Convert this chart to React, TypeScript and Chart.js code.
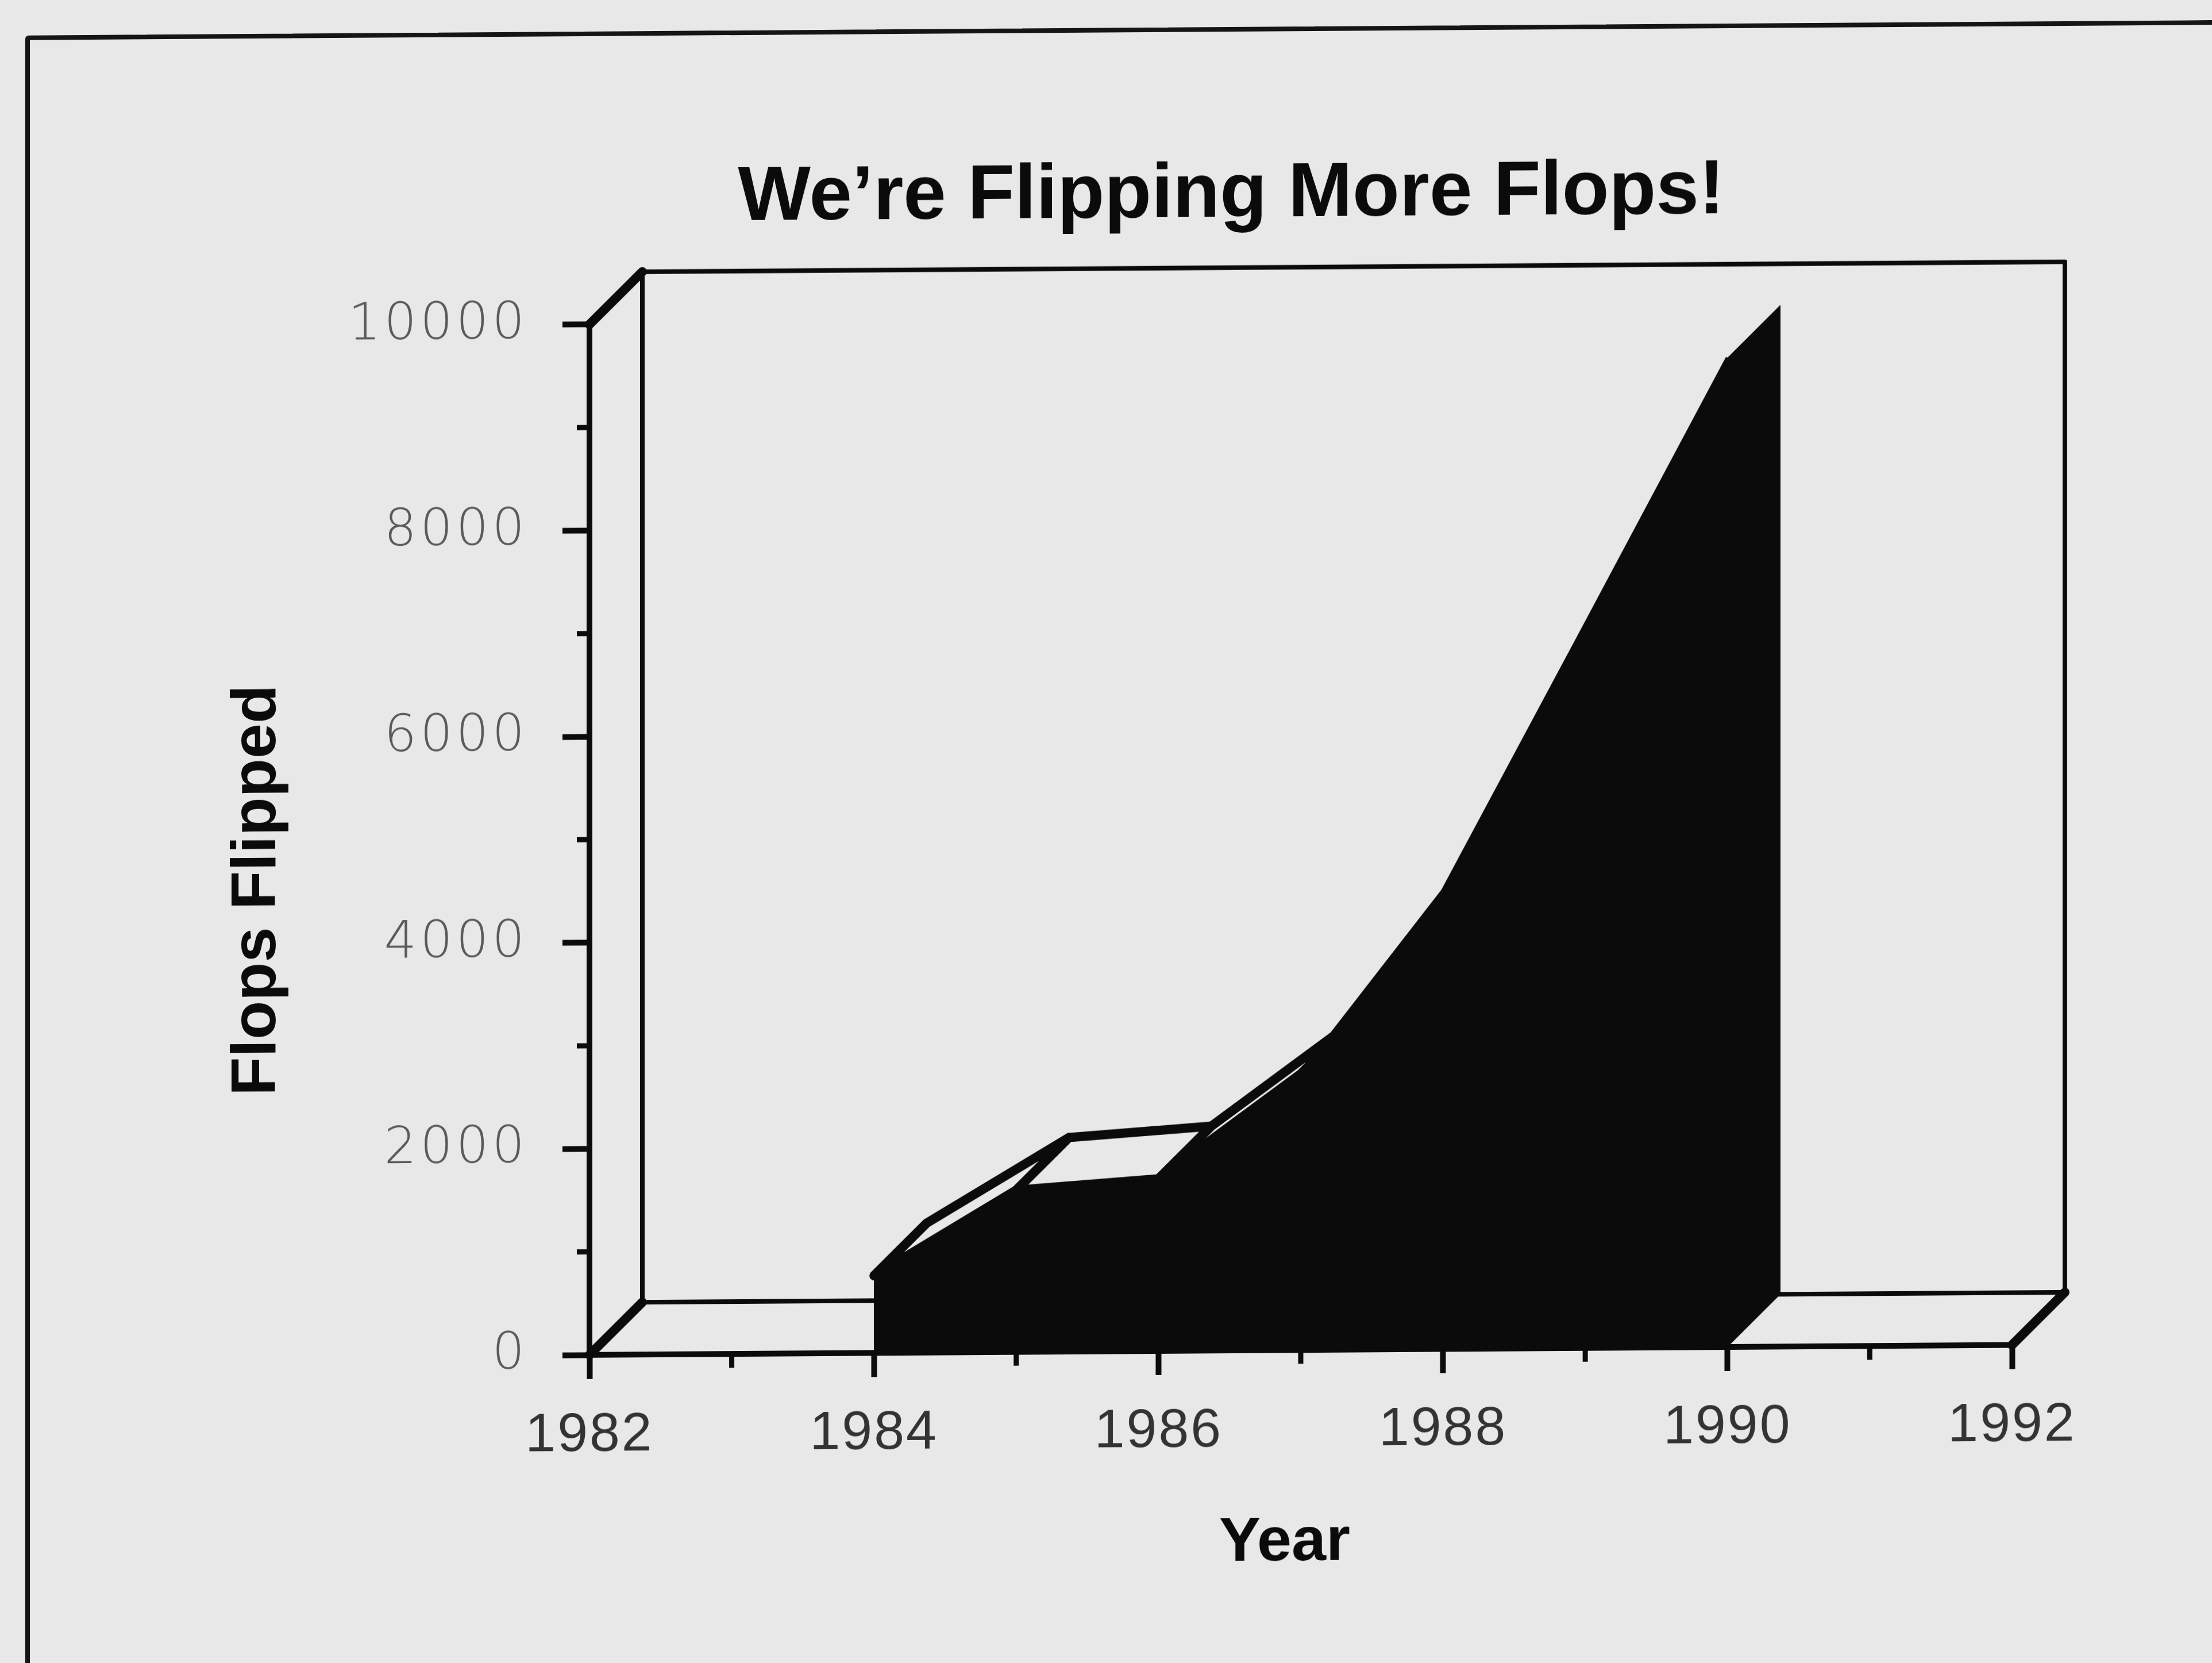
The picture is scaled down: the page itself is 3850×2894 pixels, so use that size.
import React, { useEffect, useRef } from 'react';
import { Chart, registerables, LinearScale } from 'chart.js';

Chart.register(...registerables);

// linear scale with letter-spaced tick labels and a nudgeable axis title
class SpacedLinearScale extends (LinearScale as any) {
  static id = 'spacedLinear';
  static defaults = (LinearScale as any).defaults;
  drawLabels(area: any) {
    const ctx = (this as any).ctx;
    const sp = (this as any).options.labelSpacing || 0;
    ctx.save();
    ctx.letterSpacing = sp + 'px';
    super.drawLabels(area);
    ctx.restore();
  }
  drawTitle() {
    const ctx = (this as any).ctx;
    const shift = (this as any).options.titleShift || { x: 0, y: 0 };
    ctx.save();
    ctx.translate(shift.x || 0, shift.y || 0);
    super.drawTitle();
    ctx.restore();
  }
}
Chart.register(SpacedLinearScale as any);

// ---- data ----
const YEARS = [1984, 1985, 1986, 1987, 1988, 1989, 1990];
const FLOPS = [750, 1570, 1670, 2680, 4450, 7020, 9600];

const X_MIN = 1982;
const X_MAX = 1992;
const X_STEP = 2;
const X_MINOR = [1983, 1985, 1987, 1989, 1991];

const Y_MIN = 0;
const Y_MAX = 10000;
const Y_STEP = 2000;
const Y_MINOR = [1000, 3000, 5000, 7000, 9000];

const TITLE = 'We\u2019re Flipping More Flops!';
const X_TITLE = 'Year';
const Y_TITLE = 'Flops Flipped';

// ---- styling ----
const W = 3850;
const H = 2894;
const CANVAS_W = 3903;
const INK = '#0b0b0b';
const PAPER = '#e8e8e8';
const DEPTH = { dx: 92, dy: -91 };

type Pt = { x: number; y: number };

const depthPlugin = {
  id: 'depth3d',
  beforeDatasetsDraw(chart: any) {
    const { ctx, chartArea: a, scales } = chart;
    const xs = scales.x;
    const ys = scales.y;
    const { dx, dy } = DEPTH;
    ctx.save();
    ctx.strokeStyle = INK;
    ctx.fillStyle = INK;

    // back wall + back floor edge
    ctx.lineWidth = 8;
    ctx.lineJoin = 'round';
    ctx.beginPath();
    ctx.moveTo(a.left + dx, a.bottom + dy);
    ctx.lineTo(a.left + dx, a.top + dy);
    ctx.lineTo(a.right + dx, a.top + dy);
    ctx.lineTo(a.right + dx, a.bottom + dy);
    ctx.closePath();
    ctx.stroke();

    // receding edges
    ctx.lineWidth = 16;
    ctx.lineCap = 'round';
    const edge = (x0: number, y0: number) => {
      ctx.beginPath();
      ctx.moveTo(x0, y0);
      ctx.lineTo(x0 + dx, y0 + dy);
      ctx.stroke();
    };
    edge(a.left, a.top);
    edge(a.left, a.bottom);
    edge(a.right, a.bottom);

    // extruded solid behind the front face
    const base = ys.getPixelForValue(0);
    const pts: Pt[] = YEARS.map((yr, i) => ({
      x: xs.getPixelForValue(yr),
      y: ys.getPixelForValue(FLOPS[i]),
    }));
    const n = pts.length;
    const quad = (p: Pt[]) => {
      ctx.beginPath();
      ctx.moveTo(p[0].x, p[0].y);
      for (let k = 1; k < p.length; k++) ctx.lineTo(p[k].x, p[k].y);
      ctx.closePath();
    };
    const off = (p: Pt): Pt => ({ x: p.x + dx, y: p.y + dy });

    // back face
    quad([
      { x: pts[0].x + dx, y: base + dy },
      ...pts.map(off),
      { x: pts[n - 1].x + dx, y: base + dy },
    ]);
    ctx.fill();
    // segment top bands
    for (let i = 0; i < n - 1; i++) {
      quad([pts[i], pts[i + 1], off(pts[i + 1]), off(pts[i])]);
      ctx.fill();
    }
    // end caps and floor
    const b0 = { x: pts[0].x, y: base };
    const bn = { x: pts[n - 1].x, y: base };
    quad([b0, pts[0], off(pts[0]), off(b0)]);
    ctx.fill();
    quad([bn, pts[n - 1], off(pts[n - 1]), off(bn)]);
    ctx.fill();
    quad([b0, bn, off(bn), off(b0)]);
    ctx.fill();

    // visible (upward facing) top faces
    ctx.lineWidth = 16;
    ctx.lineJoin = 'round';
    for (let i = 0; i < n - 1; i++) {
      const sx = pts[i + 1].x - pts[i].x;
      const sy = pts[i + 1].y - pts[i].y;
      const cross = sx * dy - sy * dx;
      if (cross < 0) {
        quad([pts[i], pts[i + 1], off(pts[i + 1]), off(pts[i])]);
        ctx.fillStyle = PAPER;
        ctx.fill();
        ctx.stroke();
        ctx.fillStyle = INK;
      }
    }
    ctx.restore();
  },
  afterDatasetsDraw(chart: any) {
    const { ctx, chartArea: a, scales } = chart;
    ctx.save();
    ctx.strokeStyle = INK;
    ctx.lineWidth = 9;
    ctx.lineCap = 'butt';
    for (const v of Y_MINOR) {
      const py = scales.y.getPixelForValue(v);
      ctx.beginPath();
      ctx.moveTo(a.left - 22, py);
      ctx.lineTo(a.left, py);
      ctx.stroke();
    }
    for (const v of X_MINOR) {
      const px = scales.x.getPixelForValue(v);
      ctx.beginPath();
      ctx.moveTo(px, a.bottom);
      ctx.lineTo(px, a.bottom + 24);
      ctx.stroke();
    }
    ctx.restore();
  },
};

export default function App() {
  const canvasRef = useRef<HTMLCanvasElement | null>(null);

  useEffect(() => {
    const canvas = canvasRef.current;
    if (!canvas) return;
    const chart = new Chart(canvas, {
      type: 'line',
      data: {
        datasets: [
          {
            label: Y_TITLE,
            data: YEARS.map((yr, i) => ({ x: yr, y: FLOPS[i] })),
            fill: 'origin',
            backgroundColor: INK,
            borderColor: INK,
            borderWidth: 6,
            pointRadius: 0,
            tension: 0,
          },
        ],
      },
      options: {
        responsive: false,
        maintainAspectRatio: false,
        animation: false,
        events: [],
        devicePixelRatio: 1,
        layout: { padding: { left: 383, right: 0, top: 0, bottom: 0 } },
        plugins: {
          legend: { display: false },
          tooltip: { enabled: false },
          title: {
            display: true,
            text: TITLE,
            color: INK,
            fullSize: true,
            font: { family: 'Liberation Sans', size: 134, weight: 'bold' },
            padding: { top: 275, bottom: 136 },
          },
        },
        scales: {
          x: {
            type: 'spacedLinear',
            position: 'bottom',
            min: X_MIN,
            max: X_MAX,
            labelSpacing: 3,
            titleShift: { x: -28, y: 0 },
            afterFit: (s: any) => {
              s.height = 529;
            },
            ticks: {
              stepSize: X_STEP,
              autoSkip: false,
              maxRotation: 0,
              minRotation: 0,
              padding: 42,
              color: '#333333',
              font: { family: 'Liberation Sans', size: 95 },
              callback: (v: any) => String(v),
            },
            grid: {
              drawOnChartArea: false,
              drawTicks: true,
              tickLength: 42,
              tickWidth: 10,
              tickColor: INK,
            },
            border: { display: true, color: INK, width: 10 },
            title: {
              display: true,
              text: X_TITLE,
              color: INK,
              font: { family: 'Liberation Sans', size: 108, weight: 'bold' },
              padding: { top: 0, bottom: 128 },
            },
          },
          y: {
            type: 'spacedLinear',
            position: 'left',
            min: Y_MIN,
            max: Y_MAX,
            labelSpacing: 6,
            titleShift: { x: 0, y: 84 },
            afterFit: (s: any) => {
              s.width = 643;
            },
            ticks: {
              stepSize: Y_STEP,
              autoSkip: false,
              padding: 60,
              color: '#5a5a5a',
              font: { family: 'DejaVu Sans', size: 89, weight: '300' },
              callback: (v: any) => String(v),
            },
            grid: {
              drawOnChartArea: false,
              drawTicks: true,
              tickLength: 47,
              tickWidth: 10,
              tickColor: INK,
            },
            border: { display: true, color: INK, width: 10 },
            title: {
              display: true,
              text: Y_TITLE,
              color: INK,
              font: { family: 'Liberation Sans', size: 110, weight: 'bold' },
              padding: { top: 0, bottom: 0 },
            },
          },
          // empty spacer axis on the right: keeps the plot off the right edge
          spacer: {
            type: 'linear',
            position: 'right',
            display: true,
            afterFit: (s: any) => {
              s.width = 401;
            },
            ticks: { display: false },
            grid: { display: false, drawTicks: false },
            border: { display: false },
            title: { display: false },
          },
        },
      },
      plugins: [depthPlugin],
    } as any);
    return () => chart.destroy();
  }, []);

  return (
    <div
      style={{
        position: 'fixed',
        left: 0,
        top: 0,
        width: W,
        height: H,
        overflow: 'hidden',
        background: PAPER,
      }}
    >
      <div
        style={{
          position: 'absolute',
          left: 0,
          top: 0,
          width: CANVAS_W,
          height: H,
          transform: 'skewY(-0.4deg)',
          transformOrigin: '0 0',
        }}
      >
        <div
          style={{
            position: 'absolute',
            left: 44,
            top: 62,
            width: W + 200,
            height: H + 200,
            border: '8px solid #151515',
            borderRadius: 6,
            boxSizing: 'border-box',
          }}
        />
        <canvas
          ref={canvasRef}
          width={CANVAS_W}
          height={H}
          style={{ position: 'absolute', left: 0, top: 0, width: CANVAS_W, height: H }}
        />
      </div>
    </div>
  );
}
